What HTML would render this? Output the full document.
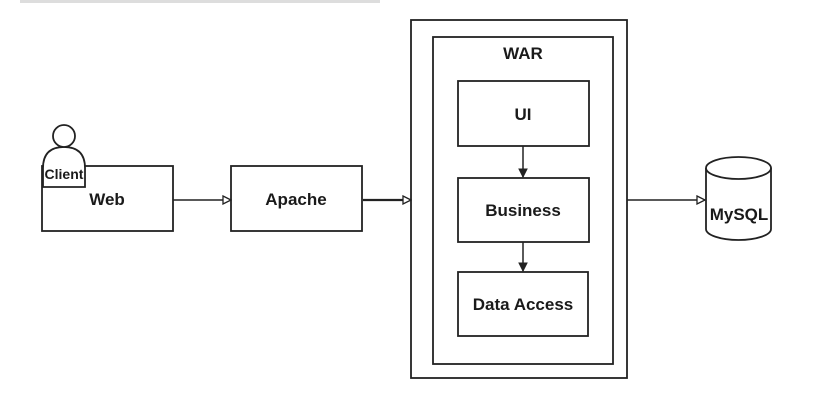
<!DOCTYPE html>
<html><head><meta charset="utf-8"><style>
html,body{margin:0;padding:0;background:#fff;}
svg{display:block;}
text{font-family:"Liberation Sans",sans-serif;font-weight:bold;fill:#1a1a1a;text-anchor:middle;}
</style></head><body>
<svg width="816" height="417" viewBox="0 0 816 417" xmlns="http://www.w3.org/2000/svg">
<defs>
<marker id="a" markerWidth="10" markerHeight="10" refX="9" refY="5" orient="auto" markerUnits="userSpaceOnUse">
<path d="M1,1 L9,5 L1,9 Z" fill="#fff" stroke="#222" stroke-width="1.3"/>
</marker>
<marker id="b" markerWidth="10" markerHeight="10" refX="9" refY="5" orient="auto" markerUnits="userSpaceOnUse">
<path d="M1,1 L9,5 L1,9 Z" fill="#222" stroke="#222" stroke-width="1"/>
</marker>
</defs>
<rect x="20" y="0" width="360" height="3" fill="#ddd"/>
<g fill="none" stroke="#222" stroke-width="1.8">
<rect x="42" y="166" width="131" height="65"/>
<rect x="231" y="166" width="131" height="65"/>
<rect x="411" y="20" width="216" height="358"/>
<rect x="433" y="37" width="180" height="327"/>
<rect x="458" y="81" width="131" height="65"/>
<rect x="458" y="178" width="131" height="64"/>
<rect x="458" y="272" width="130" height="64"/>
<line x1="173" y1="200" x2="231" y2="200" marker-end="url(#a)" stroke-width="1.5"/>
<line x1="363" y1="200" x2="411" y2="200" marker-end="url(#a)" stroke-width="2.2"/>
<line x1="627" y1="200" x2="705" y2="200" marker-end="url(#a)" stroke-width="1.5"/>
<line x1="523" y1="146" x2="523" y2="177" marker-end="url(#b)" stroke-width="1.5"/>
<line x1="523" y1="242" x2="523" y2="271" marker-end="url(#b)" stroke-width="1.5"/>
</g>
<path d="M43,187 L43,168 Q43,147 64,147 Q85,147 85,168 L85,187 Z" fill="#fff" stroke="#222" stroke-width="1.8"/>
<circle cx="64" cy="136" r="11" fill="#fff" stroke="#222" stroke-width="1.8"/>
<path d="M706,168 L706,229 A32.5,11 0 0 0 771,229 L771,168" fill="#fff" stroke="#222" stroke-width="1.8"/>
<ellipse cx="738.5" cy="168" rx="32.5" ry="11" fill="#fff" stroke="#222" stroke-width="1.8"/>
<text x="64" y="179" font-size="14">Client</text>
<text x="107" y="205" font-size="17">Web</text>
<text x="296" y="205" font-size="17">Apache</text>
<text x="523" y="59" font-size="17">WAR</text>
<text x="523" y="120" font-size="17">UI</text>
<text x="523" y="216" font-size="17">Business</text>
<text x="523" y="310" font-size="17">Data Access</text>
<text x="739" y="220" font-size="17">MySQL</text>
</svg>
</body></html>
